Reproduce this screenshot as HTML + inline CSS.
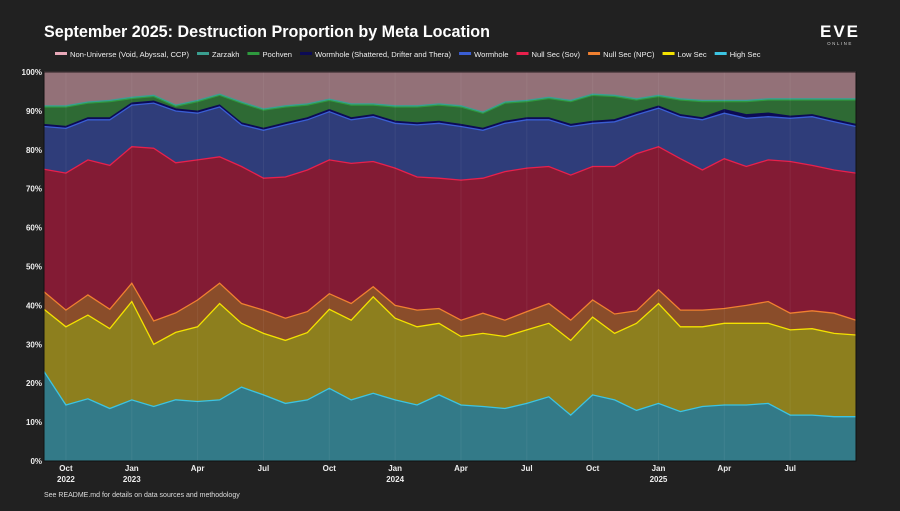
<!DOCTYPE html>
<html><head><meta charset="utf-8">
<style>
html,body{margin:0;padding:0;background:#212121;}
body{width:900px;height:506px;overflow:hidden;font-family:"Liberation Sans",sans-serif;}
svg text{font-family:"Liberation Sans",sans-serif;}
</style></head>
<body>
<svg id="chart" width="900" height="506" viewBox="0 0 900 506" xmlns="http://www.w3.org/2000/svg">
<rect width="900" height="506" fill="#212121"/>
<text x="44" y="37" fill="#ffffff" font-size="17" font-weight="bold" textLength="446" lengthAdjust="spacingAndGlyphs">September 2025: Destruction Proportion by Meta Location</text>
<g>
<text x="840" y="37" fill="#ffffff" font-size="17" font-weight="bold" text-anchor="middle" letter-spacing="2">EVE</text>
<text x="840" y="45" fill="#cccccc" font-size="4.5" text-anchor="middle" letter-spacing="1.5">ONLINE</text>
</g>
<g id="legend"></g>
<g id="plot"></g>
<g id="axes"></g>
<text x="44" y="497" fill="#dddddd" font-size="7">See README.md for details on data sources and methodology</text>
</svg>
<script>
const months = ["2022-09","2022-10","2022-11","2022-12","2023-01","2023-02","2023-03","2023-04","2023-05","2023-06","2023-07","2023-08","2023-09","2023-10","2023-11","2023-12","2024-01","2024-02","2024-03","2024-04","2024-05","2024-06","2024-07","2024-08","2024-09","2024-10","2024-11","2024-12","2025-01","2025-02","2025-03","2025-04","2025-05","2025-06","2025-07","2025-08","2025-09","2025-10"];
const highSec = [23,14.4,16,13.5,15.7,14,15.7,15.3,15.7,19,17,14.8,15.7,18.7,15.7,17.4,15.7,14.4,17,14.4,14,13.5,14.8,16.5,11.8,17,15.7,13,14.8,12.7,14,14.4,14.4,14.8,11.8,11.8,11.4,11.4];
const lowSec = [16,20.1,21.5,20.5,25.3,16,17.3,19.2,24.8,16.4,15.8,16.2,17.3,20.3,20.5,24.8,21,20.1,18.4,17.6,18.8,18.5,18.9,18.9,19.2,20,17.1,22.4,25.7,21.8,20.5,21,21,20.6,21.9,22.2,21.4,21];
const nullNpc = [4.5,4.3,5.2,5,4.7,6,5,6.9,5.2,5.1,6,5.7,5.4,4,4.3,2.6,3.3,4.3,3.8,4.2,5.2,4.2,4.7,5.1,5.2,4.4,5,3.2,3.5,4.3,4.3,3.8,4.6,5.6,4.3,4.6,5.2,3.8];
const nullSov = [31.5,35.2,34.7,37,35.1,44.4,38.5,36,32.5,35.2,33.9,36.3,36.4,34.4,36,32.2,35.3,34.2,33.5,36,34.7,38.2,36.9,35.2,37.3,34.3,37.9,40.4,36.8,38.9,36,38.5,35.7,36.4,39,37.4,36.8,37.8];
const wormhole = [11,11.5,10.3,11.7,10.7,11.6,13.3,12,12.8,10.7,12.3,13.4,12.9,12.4,11.2,11.5,11.5,13.4,14.1,13.8,12.3,12.4,12.4,12,12.5,11.1,11.5,10,9.9,10.8,12.9,11.7,12.4,11.1,11.1,12.5,12.4,12];
const whSpecial = [0.5,0.5,0.5,0.5,0.5,0.5,0.5,0.5,0.5,0.5,0.5,0.5,0.5,0.5,0.5,0.5,0.5,0.5,0.5,0.5,0.5,0.5,0.5,0.5,0.5,0.5,0.5,0.5,0.5,0.5,0.5,0.9,0.9,0.9,0.5,0.5,0.5,0.5];
const pochven = [4.5,5,3.8,4.2,1.2,1.2,0.7,2.5,2.5,5.1,4.7,4.1,3.3,2.4,3.3,2.5,3.7,4.1,4.2,4.5,3.9,4.7,4.2,5,5.9,6.7,6,3.3,2.5,3.8,4.2,2.1,3.4,3.4,4.2,3.8,5.1,6.3];
const zarzakh = [0.3,0.3,0.3,0.3,0.3,0.3,0.3,0.3,0.3,0.3,0.3,0.3,0.3,0.3,0.3,0.3,0.3,0.3,0.3,0.3,0.3,0.3,0.3,0.3,0.3,0.3,0.3,0.3,0.3,0.3,0.3,0.3,0.3,0.3,0.3,0.3,0.3,0.3];
const nonUniverse = [8.7,8.7,7.7,7.3,6.5,6,8.5,7.3,5.7,7.7,9.5,8.7,8.2,7,8.2,8.2,8.7,8.7,8.2,8.7,10.3,7.7,7.3,6.5,7.3,5.7,6,6.9,6,6.9,7.3,7.3,7.3,6.9,6.9,6.9,6.9,6.9];
const yTicks = [0,10,20,30,40,50,60,70,80,90,100];
const xTickIdx = [1,4,7,10,13,16,19,22,25,28,31,34];
const xTickLabels = ["Oct","Jan","Apr","Jul","Oct","Jan","Apr","Jul","Oct","Jan","Apr","Jul"];
const xTickYears = ["2022","2023","","","","2024","","","","2025","",""];

const seriesDefs = [
 {name:"High Sec",data:highSec,fill:"#337a88",line:"#3cc4e2",key:"high-sec"},
 {name:"Low Sec",data:lowSec,fill:"#8d7f1e",line:"#f4e200",key:"low-sec"},
 {name:"Null Sec (NPC)",data:nullNpc,fill:"#8a4d2a",line:"#f08030",key:"null-sec-npc"},
 {name:"Null Sec (Sov)",data:nullSov,fill:"#831b34",line:"#e8204c",key:"null-sec-sov"},
 {name:"Wormhole",data:wormhole,fill:"#2f3d7a",line:"#3a5ed4",key:"wormhole"},
 {name:"Wormhole (Shattered, Drifter and Thera)",data:whSpecial,fill:"#0c0b55",line:"#0c0b55",key:"wormhole-special"},
 {name:"Pochven",data:pochven,fill:"#2e6a34",line:"#2e9a3e",key:"pochven"},
 {name:"Zarzakh",data:zarzakh,fill:"#2f8f80",line:"#3a9f90",key:"zarzakh"},
 {name:"Non-Universe (Void, Abyssal, CCP)",data:nonUniverse,fill:"#937178",line:"#e8a8b8",key:"non-universe"}
];
const L=44,R=856,T=72,B=461;
const n=months.length;
const xs=i=>L+i*(R-L)/(n-1);
const ys=v=>B-(v/100)*(B-T);
const NS="http://www.w3.org/2000/svg";
function mk(tag,attrs,parent){const e=document.createElementNS(NS,tag);for(const k in attrs)e.setAttribute(k,attrs[k]);parent.appendChild(e);return e;}
const plot=document.getElementById('plot'),axes=document.getElementById('axes'),legend=document.getElementById('legend');
const totals=[];for(let i=0;i<n;i++){let s=0;seriesDefs.forEach(d=>s+=d.data[i]);totals.push(s);}
let base=new Array(n).fill(0);
const lines=[];
seriesDefs.forEach(d=>{
 const top=base.map((b,i)=>b+d.data[i]/totals[i]*100);
 let p="M"+xs(0)+","+ys(top[0]);
 for(let i=1;i<n;i++)p+="L"+xs(i).toFixed(1)+","+ys(top[i]).toFixed(1);
 let lp=p;
 for(let i=n-1;i>=0;i--)p+="L"+xs(i).toFixed(1)+","+ys(base[i]).toFixed(1);
 p+="Z";
 const a=mk('path',{d:p,fill:d.fill,stroke:'none'},plot);
 
 
 lines.push({d:lp,c:d.line,key:d.key});
 base=top;
});
lines.forEach(l=>{const e=mk('path',{d:l.d,fill:'none',stroke:l.c,'stroke-width':1.3},plot);
 
 });
xTickIdx.forEach(i=>{const g=mk('line',{x1:xs(i),x2:xs(i),y1:T,y2:B,stroke:'rgba(255,255,255,0.06)','stroke-width':1},plot);
 
 });
mk('rect',{x:L,y:T,width:R-L,height:B-T,fill:'none',stroke:'#111','stroke-width':1},plot);
yTicks.forEach(v=>{const t=mk('text',{x:L-2,y:ys(v)+3,fill:'#eeeeee','font-size':8,'font-weight':'bold','text-anchor':'end'},axes);t.textContent=v+'%';
 
 });
xTickIdx.forEach((idx,k)=>{const t=mk('text',{x:xs(idx),y:471,fill:'#eeeeee','font-size':8,'font-weight':'bold','text-anchor':'middle'},axes);t.textContent=xTickLabels[k];
 
 
 if(xTickYears[k]){const y=mk('text',{x:xs(idx),y:482,fill:'#eeeeee','font-size':8,'font-weight':'bold','text-anchor':'middle'},axes);y.textContent=xTickYears[k];
 
 }
});
const order=[8,7,6,5,4,3,2,1,0];let lx=55;
order.forEach(j=>{const d=seriesDefs[j];
 const g=mk('g',{},legend);
 
 
 mk('rect',{x:lx,y:52,width:12,height:3,fill:d.line},g);
 const t=mk('text',{x:lx+15,y:57,fill:'#eeeeee','font-size':7.6},g);t.textContent=d.name;
 lx+=15+t.getComputedTextLength()+8;
});
</script>
</body></html>
